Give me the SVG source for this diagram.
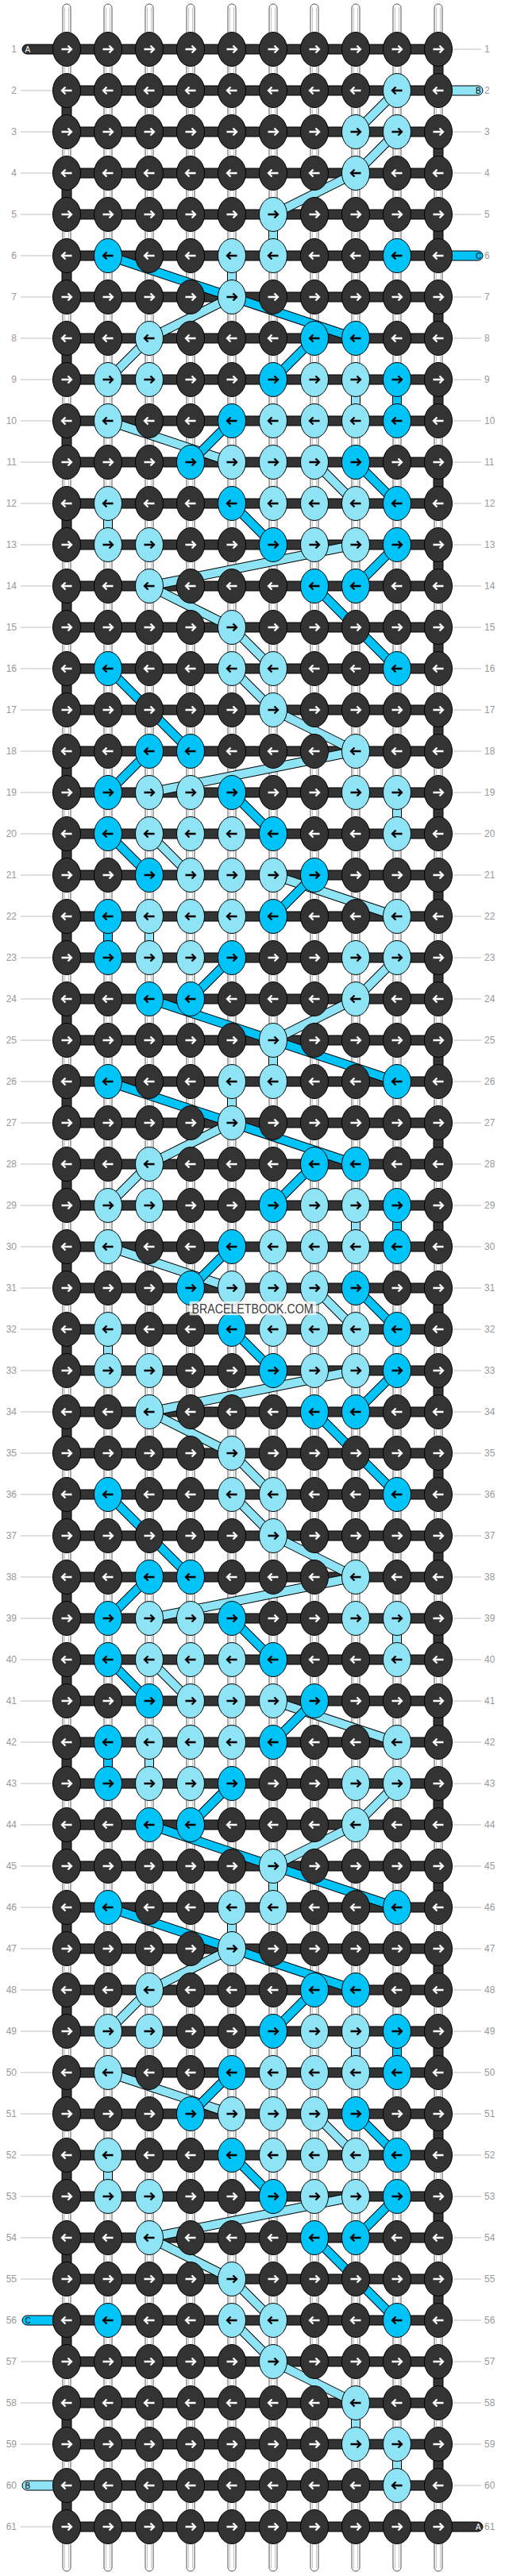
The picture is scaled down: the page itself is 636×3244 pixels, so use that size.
<svg xmlns="http://www.w3.org/2000/svg" width="636" height="3244" viewBox="0 0 636 3244">
<style>
.ll{font-family:'Liberation Sans',Arial,sans-serif;font-size:12px;fill:#999;text-anchor:end}
.lr{font-family:'Liberation Sans',Arial,sans-serif;font-size:12px;fill:#999}
.sl{font-family:'Liberation Sans',Arial,sans-serif;font-size:10px}
</style>
<defs>
<g id="dR"><ellipse rx="17.5" ry="21.5" fill="#333" stroke="#000"/><path d="M-6.5,0H5.5M1.5,-4.5L6,0L1.5,4.5" fill="none" stroke="#fff" stroke-width="2.3"/></g>
<g id="dL"><ellipse rx="17.5" ry="21.5" fill="#333" stroke="#000"/><path d="M6.5,0H-5.5M-1.5,-4.5L-6,0L-1.5,4.5" fill="none" stroke="#fff" stroke-width="2.3"/></g>
<g id="bR"><ellipse rx="17.5" ry="21.5" fill="#8ee4f5" stroke="#000"/><path d="M-6.5,0H5.5M1.5,-4.5L6,0L1.5,4.5" fill="none" stroke="#000" stroke-width="2.3"/></g>
<g id="bL"><ellipse rx="17.5" ry="21.5" fill="#8ee4f5" stroke="#000"/><path d="M6.5,0H-5.5M-1.5,-4.5L-6,0L-1.5,4.5" fill="none" stroke="#000" stroke-width="2.3"/></g>
<g id="cR"><ellipse rx="17.5" ry="21.5" fill="#00c3f7" stroke="#000"/><path d="M-6.5,0H5.5M1.5,-4.5L6,0L1.5,4.5" fill="none" stroke="#000" stroke-width="2.3"/></g>
<g id="cL"><ellipse rx="17.5" ry="21.5" fill="#00c3f7" stroke="#000"/><path d="M6.5,0H-5.5M-1.5,-4.5L-6,0L-1.5,4.5" fill="none" stroke="#000" stroke-width="2.3"/></g>
<path id="lb" d="M500,114L448,166M500,166L448,218M448,218L344,270M344,270L344,322M292,322L292,374M292,374L188,426M188,426L136,478M448,478L448,530M136,530L292,582M396,582L448,634M136,634L136,686M448,686L188,738M188,738L292,790M292,790L344,842M292,842L344,894M344,894L448,946M448,946L188,998M500,998L500,1050M188,1050L240,1102M344,1102L500,1154M188,1154L188,1206M500,1206L448,1258M448,1258L344,1310M344,1310L344,1362M292,1362L292,1414M292,1414L188,1466M188,1466L136,1518M448,1518L448,1570M136,1570L292,1622M396,1622L448,1674M136,1674L136,1726M448,1726L188,1778M188,1778L292,1830M292,1830L344,1882M292,1882L344,1934M344,1934L448,1986M448,1986L188,2038M500,2038L500,2090M188,2090L240,2142M344,2142L500,2194M188,2194L188,2246M500,2246L448,2298M448,2298L344,2350M344,2350L344,2402M292,2402L292,2454M292,2454L188,2506M188,2506L136,2558M448,2558L448,2610M136,2610L292,2662M396,2662L448,2714M136,2714L136,2766M448,2766L188,2818M188,2818L292,2870M292,2870L344,2922M292,2922L344,2974M344,2974L448,3026M448,3026L448,3078M500,3078L500,3130"/>
<path id="lc" d="M136,322L448,426M396,426L344,478M500,478L500,530M292,530L240,582M448,582L500,634M292,634L344,686M500,686L448,738M396,738L500,842M136,842L240,946M188,946L136,998M292,998L344,1050M136,1050L188,1102M396,1102L344,1154M136,1154L136,1206M292,1206L240,1258M188,1258L500,1362M136,1362L448,1466M396,1466L344,1518M500,1518L500,1570M292,1570L240,1622M448,1622L500,1674M292,1674L344,1726M500,1726L448,1778M396,1778L500,1882M136,1882L240,1986M188,1986L136,2038M292,2038L344,2090M136,2090L188,2142M396,2142L344,2194M136,2194L136,2246M292,2246L240,2298M188,2298L500,2402M136,2402L448,2506M396,2506L344,2558M500,2558L500,2610M292,2610L240,2662M448,2662L500,2714M292,2714L344,2766M500,2766L448,2818M396,2818L500,2922"/>
</defs>
<rect width="636" height="3244" fill="#fff"/>
<g id="strands" fill="#fff" stroke="#555">
<rect x="79" y="5" width="10" height="3233" rx="5"/><rect x="131" y="5" width="10" height="3233" rx="5"/><rect x="183" y="5" width="10" height="3233" rx="5"/><rect x="235" y="5" width="10" height="3233" rx="5"/><rect x="287" y="5" width="10" height="3233" rx="5"/><rect x="339" y="5" width="10" height="3233" rx="5"/><rect x="391" y="5" width="10" height="3233" rx="5"/><rect x="443" y="5" width="10" height="3233" rx="5"/><rect x="495" y="5" width="10" height="3233" rx="5"/><rect x="547" y="5" width="10" height="3233" rx="5"/>
<path fill="none" stroke="#c4c4c4" d="M81.5,9V3234M86.5,9V3234M133.5,9V3234M138.5,9V3234M185.5,9V3234M190.5,9V3234M237.5,9V3234M242.5,9V3234M289.5,9V3234M294.5,9V3234M341.5,9V3234M346.5,9V3234M393.5,9V3234M398.5,9V3234M445.5,9V3234M450.5,9V3234M497.5,9V3234M502.5,9V3234M549.5,9V3234M554.5,9V3234"/>
</g>
<g id="row-lines" fill="none" stroke="#c0c0c0">
<path d="M26,114H67M26,166H67M26,218H67M26,270H67M26,322H67M26,374H67M26,426H67M26,478H67M26,530H67M26,582H67M26,634H67M26,686H67M26,738H67M26,790H67M26,842H67M26,894H67M26,946H67M26,998H67M26,1050H67M26,1102H67M26,1154H67M26,1206H67M26,1258H67M26,1310H67M26,1362H67M26,1414H67M26,1466H67M26,1518H67M26,1570H67M26,1622H67M26,1674H67M26,1726H67M26,1778H67M26,1830H67M26,1882H67M26,1934H67M26,1986H67M26,2038H67M26,2090H67M26,2142H67M26,2194H67M26,2246H67M26,2298H67M26,2350H67M26,2402H67M26,2454H67M26,2506H67M26,2558H67M26,2610H67M26,2662H67M26,2714H67M26,2766H67M26,2818H67M26,2870H67M26,2974H67M26,3026H67M26,3078H67M26,3182H67"/>
<path d="M569,62H606M569,166H606M569,218H606M569,270H606M569,374H606M569,426H606M569,478H606M569,530H606M569,582H606M569,634H606M569,686H606M569,738H606M569,790H606M569,842H606M569,894H606M569,946H606M569,998H606M569,1050H606M569,1102H606M569,1154H606M569,1206H606M569,1258H606M569,1310H606M569,1362H606M569,1414H606M569,1466H606M569,1518H606M569,1570H606M569,1622H606M569,1674H606M569,1726H606M569,1778H606M569,1830H606M569,1882H606M569,1934H606M569,1986H606M569,2038H606M569,2090H606M569,2142H606M569,2194H606M569,2246H606M569,2298H606M569,2350H606M569,2402H606M569,2454H606M569,2506H606M569,2558H606M569,2610H606M569,2662H606M569,2714H606M569,2766H606M569,2818H606M569,2870H606M569,2922H606M569,2974H606M569,3026H606M569,3078H606M569,3130H606"/>
</g>
<g id="row-labels">
<text class="ll" x="21" y="66">1</text><text class="lr" x="610" y="66">1</text>
<text class="ll" x="21" y="118">2</text><text class="lr" x="610" y="118">2</text>
<text class="ll" x="21" y="170">3</text><text class="lr" x="610" y="170">3</text>
<text class="ll" x="21" y="222">4</text><text class="lr" x="610" y="222">4</text>
<text class="ll" x="21" y="274">5</text><text class="lr" x="610" y="274">5</text>
<text class="ll" x="21" y="326">6</text><text class="lr" x="610" y="326">6</text>
<text class="ll" x="21" y="378">7</text><text class="lr" x="610" y="378">7</text>
<text class="ll" x="21" y="430">8</text><text class="lr" x="610" y="430">8</text>
<text class="ll" x="21" y="482">9</text><text class="lr" x="610" y="482">9</text>
<text class="ll" x="21" y="534">10</text><text class="lr" x="610" y="534">10</text>
<text class="ll" x="21" y="586">11</text><text class="lr" x="610" y="586">11</text>
<text class="ll" x="21" y="638">12</text><text class="lr" x="610" y="638">12</text>
<text class="ll" x="21" y="690">13</text><text class="lr" x="610" y="690">13</text>
<text class="ll" x="21" y="742">14</text><text class="lr" x="610" y="742">14</text>
<text class="ll" x="21" y="794">15</text><text class="lr" x="610" y="794">15</text>
<text class="ll" x="21" y="846">16</text><text class="lr" x="610" y="846">16</text>
<text class="ll" x="21" y="898">17</text><text class="lr" x="610" y="898">17</text>
<text class="ll" x="21" y="950">18</text><text class="lr" x="610" y="950">18</text>
<text class="ll" x="21" y="1002">19</text><text class="lr" x="610" y="1002">19</text>
<text class="ll" x="21" y="1054">20</text><text class="lr" x="610" y="1054">20</text>
<text class="ll" x="21" y="1106">21</text><text class="lr" x="610" y="1106">21</text>
<text class="ll" x="21" y="1158">22</text><text class="lr" x="610" y="1158">22</text>
<text class="ll" x="21" y="1210">23</text><text class="lr" x="610" y="1210">23</text>
<text class="ll" x="21" y="1262">24</text><text class="lr" x="610" y="1262">24</text>
<text class="ll" x="21" y="1314">25</text><text class="lr" x="610" y="1314">25</text>
<text class="ll" x="21" y="1366">26</text><text class="lr" x="610" y="1366">26</text>
<text class="ll" x="21" y="1418">27</text><text class="lr" x="610" y="1418">27</text>
<text class="ll" x="21" y="1470">28</text><text class="lr" x="610" y="1470">28</text>
<text class="ll" x="21" y="1522">29</text><text class="lr" x="610" y="1522">29</text>
<text class="ll" x="21" y="1574">30</text><text class="lr" x="610" y="1574">30</text>
<text class="ll" x="21" y="1626">31</text><text class="lr" x="610" y="1626">31</text>
<text class="ll" x="21" y="1678">32</text><text class="lr" x="610" y="1678">32</text>
<text class="ll" x="21" y="1730">33</text><text class="lr" x="610" y="1730">33</text>
<text class="ll" x="21" y="1782">34</text><text class="lr" x="610" y="1782">34</text>
<text class="ll" x="21" y="1834">35</text><text class="lr" x="610" y="1834">35</text>
<text class="ll" x="21" y="1886">36</text><text class="lr" x="610" y="1886">36</text>
<text class="ll" x="21" y="1938">37</text><text class="lr" x="610" y="1938">37</text>
<text class="ll" x="21" y="1990">38</text><text class="lr" x="610" y="1990">38</text>
<text class="ll" x="21" y="2042">39</text><text class="lr" x="610" y="2042">39</text>
<text class="ll" x="21" y="2094">40</text><text class="lr" x="610" y="2094">40</text>
<text class="ll" x="21" y="2146">41</text><text class="lr" x="610" y="2146">41</text>
<text class="ll" x="21" y="2198">42</text><text class="lr" x="610" y="2198">42</text>
<text class="ll" x="21" y="2250">43</text><text class="lr" x="610" y="2250">43</text>
<text class="ll" x="21" y="2302">44</text><text class="lr" x="610" y="2302">44</text>
<text class="ll" x="21" y="2354">45</text><text class="lr" x="610" y="2354">45</text>
<text class="ll" x="21" y="2406">46</text><text class="lr" x="610" y="2406">46</text>
<text class="ll" x="21" y="2458">47</text><text class="lr" x="610" y="2458">47</text>
<text class="ll" x="21" y="2510">48</text><text class="lr" x="610" y="2510">48</text>
<text class="ll" x="21" y="2562">49</text><text class="lr" x="610" y="2562">49</text>
<text class="ll" x="21" y="2614">50</text><text class="lr" x="610" y="2614">50</text>
<text class="ll" x="21" y="2666">51</text><text class="lr" x="610" y="2666">51</text>
<text class="ll" x="21" y="2718">52</text><text class="lr" x="610" y="2718">52</text>
<text class="ll" x="21" y="2770">53</text><text class="lr" x="610" y="2770">53</text>
<text class="ll" x="21" y="2822">54</text><text class="lr" x="610" y="2822">54</text>
<text class="ll" x="21" y="2874">55</text><text class="lr" x="610" y="2874">55</text>
<text class="ll" x="21" y="2926">56</text><text class="lr" x="610" y="2926">56</text>
<text class="ll" x="21" y="2978">57</text><text class="lr" x="610" y="2978">57</text>
<text class="ll" x="21" y="3030">58</text><text class="lr" x="610" y="3030">58</text>
<text class="ll" x="21" y="3082">59</text><text class="lr" x="610" y="3082">59</text>
<text class="ll" x="21" y="3134">60</text><text class="lr" x="610" y="3134">60</text>
<text class="ll" x="21" y="3186">61</text><text class="lr" x="610" y="3186">61</text>
</g>
<g id="connectors">
<path id="bands" fill="#333" stroke="#000" d="M84,56h468v12h-468zM84,108h468v12h-468zM84,160h468v12h-468zM84,212h468v12h-468zM84,264h468v12h-468zM84,316h468v12h-468zM84,368h468v12h-468zM84,420h468v12h-468zM84,472h468v12h-468zM84,524h468v12h-468zM84,576h468v12h-468zM84,628h468v12h-468zM84,680h468v12h-468zM84,732h468v12h-468zM84,784h468v12h-468zM84,836h468v12h-468zM84,888h468v12h-468zM84,940h468v12h-468zM84,992h468v12h-468zM84,1044h468v12h-468zM84,1096h468v12h-468zM84,1148h468v12h-468zM84,1200h468v12h-468zM84,1252h468v12h-468zM84,1304h468v12h-468zM84,1356h468v12h-468zM84,1408h468v12h-468zM84,1460h468v12h-468zM84,1512h468v12h-468zM84,1564h468v12h-468zM84,1616h468v12h-468zM84,1668h468v12h-468zM84,1720h468v12h-468zM84,1772h468v12h-468zM84,1824h468v12h-468zM84,1876h468v12h-468zM84,1928h468v12h-468zM84,1980h468v12h-468zM84,2032h468v12h-468zM84,2084h468v12h-468zM84,2136h468v12h-468zM84,2188h468v12h-468zM84,2240h468v12h-468zM84,2292h468v12h-468zM84,2344h468v12h-468zM84,2396h468v12h-468zM84,2448h468v12h-468zM84,2500h468v12h-468zM84,2552h468v12h-468zM84,2604h468v12h-468zM84,2656h468v12h-468zM84,2708h468v12h-468zM84,2760h468v12h-468zM84,2812h468v12h-468zM84,2864h468v12h-468zM84,2916h468v12h-468zM84,2968h468v12h-468zM84,3020h468v12h-468zM84,3072h468v12h-468zM84,3124h468v12h-468zM84,3176h468v12h-468z"/>
<path id="turns" fill="#333" stroke="#000" d="M546,62h12v52h-12zM546,166h12v52h-12zM546,270h12v52h-12zM546,374h12v52h-12zM546,478h12v52h-12zM546,582h12v52h-12zM546,686h12v52h-12zM546,790h12v52h-12zM546,894h12v52h-12zM546,998h12v52h-12zM546,1102h12v52h-12zM546,1206h12v52h-12zM546,1310h12v52h-12zM546,1414h12v52h-12zM546,1518h12v52h-12zM546,1622h12v52h-12zM546,1726h12v52h-12zM546,1830h12v52h-12zM546,1934h12v52h-12zM546,2038h12v52h-12zM546,2142h12v52h-12zM546,2246h12v52h-12zM546,2350h12v52h-12zM546,2454h12v52h-12zM546,2558h12v52h-12zM546,2662h12v52h-12zM546,2766h12v52h-12zM546,2870h12v52h-12zM546,2974h12v52h-12zM546,3078h12v52h-12zM78,114h12v52h-12zM78,218h12v52h-12zM78,322h12v52h-12zM78,426h12v52h-12zM78,530h12v52h-12zM78,634h12v52h-12zM78,738h12v52h-12zM78,842h12v52h-12zM78,946h12v52h-12zM78,1050h12v52h-12zM78,1154h12v52h-12zM78,1258h12v52h-12zM78,1362h12v52h-12zM78,1466h12v52h-12zM78,1570h12v52h-12zM78,1674h12v52h-12zM78,1778h12v52h-12zM78,1882h12v52h-12zM78,1986h12v52h-12zM78,2090h12v52h-12zM78,2194h12v52h-12zM78,2298h12v52h-12zM78,2402h12v52h-12zM78,2506h12v52h-12zM78,2610h12v52h-12zM78,2714h12v52h-12zM78,2818h12v52h-12zM78,2922h12v52h-12zM78,3026h12v52h-12zM78,3130h12v52h-12z"/>
<g id="thread-B"><use href="#lb" fill="none" stroke="#000" stroke-width="12"/><use href="#lb" fill="none" stroke="#8ee4f5" stroke-width="10"/></g>
<g id="thread-C"><use href="#lc" fill="none" stroke="#000" stroke-width="12"/><use href="#lc" fill="none" stroke="#00c3f7" stroke-width="10"/></g>
<g id="stubs">
<rect x="28" y="56" width="56" height="12" rx="6" fill="#333" stroke="#000"/><text class="sl" x="31.5" y="65.6" fill="#fff">A</text>
<rect x="552" y="108" width="56" height="12" rx="6" fill="#8ee4f5" stroke="#000"/><text class="sl" x="599" y="117.6" fill="#000">B</text>
<rect x="552" y="316" width="56" height="12" rx="6" fill="#00c3f7" stroke="#000"/><text class="sl" x="599" y="325.6" fill="#000">C</text>
<rect x="28" y="2916" width="56" height="12" rx="6" fill="#00c3f7" stroke="#000"/><text class="sl" x="31.5" y="2925.6" fill="#000">C</text>
<rect x="28" y="3124" width="56" height="12" rx="6" fill="#8ee4f5" stroke="#000"/><text class="sl" x="31.5" y="3133.6" fill="#000">B</text>
<rect x="552" y="3176" width="56" height="12" rx="6" fill="#333" stroke="#000"/><text class="sl" x="599" y="3185.6" fill="#fff">A</text>
</g>
</g>
<g id="knots">
<g id="r1" transform="translate(0,62)"><use href="#dR" x="84"/><use href="#dR" x="136"/><use href="#dR" x="188"/><use href="#dR" x="240"/><use href="#dR" x="292"/><use href="#dR" x="344"/><use href="#dR" x="396"/><use href="#dR" x="448"/><use href="#dR" x="500"/><use href="#dR" x="552"/></g>
<g id="r2" transform="translate(0,114)"><use href="#dL" x="84"/><use href="#dL" x="136"/><use href="#dL" x="188"/><use href="#dL" x="240"/><use href="#dL" x="292"/><use href="#dL" x="344"/><use href="#dL" x="396"/><use href="#dL" x="448"/><use href="#bL" x="500"/><use href="#dL" x="552"/></g>
<g id="r3" transform="translate(0,166)"><use href="#dR" x="84"/><use href="#dR" x="136"/><use href="#dR" x="188"/><use href="#dR" x="240"/><use href="#dR" x="292"/><use href="#dR" x="344"/><use href="#dR" x="396"/><use href="#bR" x="448"/><use href="#bR" x="500"/><use href="#dR" x="552"/></g>
<g id="r4" transform="translate(0,218)"><use href="#dL" x="84"/><use href="#dL" x="136"/><use href="#dL" x="188"/><use href="#dL" x="240"/><use href="#dL" x="292"/><use href="#dL" x="344"/><use href="#dL" x="396"/><use href="#bL" x="448"/><use href="#dL" x="500"/><use href="#dL" x="552"/></g>
<g id="r5" transform="translate(0,270)"><use href="#dR" x="84"/><use href="#dR" x="136"/><use href="#dR" x="188"/><use href="#dR" x="240"/><use href="#dR" x="292"/><use href="#bR" x="344"/><use href="#dR" x="396"/><use href="#dR" x="448"/><use href="#dR" x="500"/><use href="#dR" x="552"/></g>
<g id="r6" transform="translate(0,322)"><use href="#dL" x="84"/><use href="#cL" x="136"/><use href="#dL" x="188"/><use href="#dL" x="240"/><use href="#bL" x="292"/><use href="#bL" x="344"/><use href="#dL" x="396"/><use href="#dL" x="448"/><use href="#cL" x="500"/><use href="#dL" x="552"/></g>
<g id="r7" transform="translate(0,374)"><use href="#dR" x="84"/><use href="#dR" x="136"/><use href="#dR" x="188"/><use href="#dR" x="240"/><use href="#bR" x="292"/><use href="#dR" x="344"/><use href="#dR" x="396"/><use href="#dR" x="448"/><use href="#dR" x="500"/><use href="#dR" x="552"/></g>
<g id="r8" transform="translate(0,426)"><use href="#dL" x="84"/><use href="#dL" x="136"/><use href="#bL" x="188"/><use href="#dL" x="240"/><use href="#dL" x="292"/><use href="#dL" x="344"/><use href="#cL" x="396"/><use href="#cL" x="448"/><use href="#dL" x="500"/><use href="#dL" x="552"/></g>
<g id="r9" transform="translate(0,478)"><use href="#dR" x="84"/><use href="#bR" x="136"/><use href="#bR" x="188"/><use href="#dR" x="240"/><use href="#dR" x="292"/><use href="#cR" x="344"/><use href="#bR" x="396"/><use href="#bR" x="448"/><use href="#cR" x="500"/><use href="#dR" x="552"/></g>
<g id="r10" transform="translate(0,530)"><use href="#dL" x="84"/><use href="#bL" x="136"/><use href="#dL" x="188"/><use href="#dL" x="240"/><use href="#cL" x="292"/><use href="#bL" x="344"/><use href="#bL" x="396"/><use href="#bL" x="448"/><use href="#cL" x="500"/><use href="#dL" x="552"/></g>
<g id="r11" transform="translate(0,582)"><use href="#dR" x="84"/><use href="#dR" x="136"/><use href="#dR" x="188"/><use href="#cR" x="240"/><use href="#bR" x="292"/><use href="#bR" x="344"/><use href="#bR" x="396"/><use href="#cR" x="448"/><use href="#dR" x="500"/><use href="#dR" x="552"/></g>
<g id="r12" transform="translate(0,634)"><use href="#dL" x="84"/><use href="#bL" x="136"/><use href="#dL" x="188"/><use href="#dL" x="240"/><use href="#cL" x="292"/><use href="#bL" x="344"/><use href="#bL" x="396"/><use href="#bL" x="448"/><use href="#cL" x="500"/><use href="#dL" x="552"/></g>
<g id="r13" transform="translate(0,686)"><use href="#dR" x="84"/><use href="#bR" x="136"/><use href="#bR" x="188"/><use href="#dR" x="240"/><use href="#dR" x="292"/><use href="#cR" x="344"/><use href="#bR" x="396"/><use href="#bR" x="448"/><use href="#cR" x="500"/><use href="#dR" x="552"/></g>
<g id="r14" transform="translate(0,738)"><use href="#dL" x="84"/><use href="#dL" x="136"/><use href="#bL" x="188"/><use href="#dL" x="240"/><use href="#dL" x="292"/><use href="#dL" x="344"/><use href="#cL" x="396"/><use href="#cL" x="448"/><use href="#dL" x="500"/><use href="#dL" x="552"/></g>
<g id="r15" transform="translate(0,790)"><use href="#dR" x="84"/><use href="#dR" x="136"/><use href="#dR" x="188"/><use href="#dR" x="240"/><use href="#bR" x="292"/><use href="#dR" x="344"/><use href="#dR" x="396"/><use href="#dR" x="448"/><use href="#dR" x="500"/><use href="#dR" x="552"/></g>
<g id="r16" transform="translate(0,842)"><use href="#dL" x="84"/><use href="#cL" x="136"/><use href="#dL" x="188"/><use href="#dL" x="240"/><use href="#bL" x="292"/><use href="#bL" x="344"/><use href="#dL" x="396"/><use href="#dL" x="448"/><use href="#cL" x="500"/><use href="#dL" x="552"/></g>
<g id="r17" transform="translate(0,894)"><use href="#dR" x="84"/><use href="#dR" x="136"/><use href="#dR" x="188"/><use href="#dR" x="240"/><use href="#dR" x="292"/><use href="#bR" x="344"/><use href="#dR" x="396"/><use href="#dR" x="448"/><use href="#dR" x="500"/><use href="#dR" x="552"/></g>
<g id="r18" transform="translate(0,946)"><use href="#dL" x="84"/><use href="#dL" x="136"/><use href="#cL" x="188"/><use href="#cL" x="240"/><use href="#dL" x="292"/><use href="#dL" x="344"/><use href="#dL" x="396"/><use href="#bL" x="448"/><use href="#dL" x="500"/><use href="#dL" x="552"/></g>
<g id="r19" transform="translate(0,998)"><use href="#dR" x="84"/><use href="#cR" x="136"/><use href="#bR" x="188"/><use href="#bR" x="240"/><use href="#cR" x="292"/><use href="#dR" x="344"/><use href="#dR" x="396"/><use href="#bR" x="448"/><use href="#bR" x="500"/><use href="#dR" x="552"/></g>
<g id="r20" transform="translate(0,1050)"><use href="#dL" x="84"/><use href="#cL" x="136"/><use href="#bL" x="188"/><use href="#bL" x="240"/><use href="#bL" x="292"/><use href="#cL" x="344"/><use href="#dL" x="396"/><use href="#dL" x="448"/><use href="#bL" x="500"/><use href="#dL" x="552"/></g>
<g id="r21" transform="translate(0,1102)"><use href="#dR" x="84"/><use href="#dR" x="136"/><use href="#cR" x="188"/><use href="#bR" x="240"/><use href="#bR" x="292"/><use href="#bR" x="344"/><use href="#cR" x="396"/><use href="#dR" x="448"/><use href="#dR" x="500"/><use href="#dR" x="552"/></g>
<g id="r22" transform="translate(0,1154)"><use href="#dL" x="84"/><use href="#cL" x="136"/><use href="#bL" x="188"/><use href="#bL" x="240"/><use href="#bL" x="292"/><use href="#cL" x="344"/><use href="#dL" x="396"/><use href="#dL" x="448"/><use href="#bL" x="500"/><use href="#dL" x="552"/></g>
<g id="r23" transform="translate(0,1206)"><use href="#dR" x="84"/><use href="#cR" x="136"/><use href="#bR" x="188"/><use href="#bR" x="240"/><use href="#cR" x="292"/><use href="#dR" x="344"/><use href="#dR" x="396"/><use href="#bR" x="448"/><use href="#bR" x="500"/><use href="#dR" x="552"/></g>
<g id="r24" transform="translate(0,1258)"><use href="#dL" x="84"/><use href="#dL" x="136"/><use href="#cL" x="188"/><use href="#cL" x="240"/><use href="#dL" x="292"/><use href="#dL" x="344"/><use href="#dL" x="396"/><use href="#bL" x="448"/><use href="#dL" x="500"/><use href="#dL" x="552"/></g>
<g id="r25" transform="translate(0,1310)"><use href="#dR" x="84"/><use href="#dR" x="136"/><use href="#dR" x="188"/><use href="#dR" x="240"/><use href="#dR" x="292"/><use href="#bR" x="344"/><use href="#dR" x="396"/><use href="#dR" x="448"/><use href="#dR" x="500"/><use href="#dR" x="552"/></g>
<g id="r26" transform="translate(0,1362)"><use href="#dL" x="84"/><use href="#cL" x="136"/><use href="#dL" x="188"/><use href="#dL" x="240"/><use href="#bL" x="292"/><use href="#bL" x="344"/><use href="#dL" x="396"/><use href="#dL" x="448"/><use href="#cL" x="500"/><use href="#dL" x="552"/></g>
<g id="r27" transform="translate(0,1414)"><use href="#dR" x="84"/><use href="#dR" x="136"/><use href="#dR" x="188"/><use href="#dR" x="240"/><use href="#bR" x="292"/><use href="#dR" x="344"/><use href="#dR" x="396"/><use href="#dR" x="448"/><use href="#dR" x="500"/><use href="#dR" x="552"/></g>
<g id="r28" transform="translate(0,1466)"><use href="#dL" x="84"/><use href="#dL" x="136"/><use href="#bL" x="188"/><use href="#dL" x="240"/><use href="#dL" x="292"/><use href="#dL" x="344"/><use href="#cL" x="396"/><use href="#cL" x="448"/><use href="#dL" x="500"/><use href="#dL" x="552"/></g>
<g id="r29" transform="translate(0,1518)"><use href="#dR" x="84"/><use href="#bR" x="136"/><use href="#bR" x="188"/><use href="#dR" x="240"/><use href="#dR" x="292"/><use href="#cR" x="344"/><use href="#bR" x="396"/><use href="#bR" x="448"/><use href="#cR" x="500"/><use href="#dR" x="552"/></g>
<g id="r30" transform="translate(0,1570)"><use href="#dL" x="84"/><use href="#bL" x="136"/><use href="#dL" x="188"/><use href="#dL" x="240"/><use href="#cL" x="292"/><use href="#bL" x="344"/><use href="#bL" x="396"/><use href="#bL" x="448"/><use href="#cL" x="500"/><use href="#dL" x="552"/></g>
<g id="r31" transform="translate(0,1622)"><use href="#dR" x="84"/><use href="#dR" x="136"/><use href="#dR" x="188"/><use href="#cR" x="240"/><use href="#bR" x="292"/><use href="#bR" x="344"/><use href="#bR" x="396"/><use href="#cR" x="448"/><use href="#dR" x="500"/><use href="#dR" x="552"/></g>
<g id="r32" transform="translate(0,1674)"><use href="#dL" x="84"/><use href="#bL" x="136"/><use href="#dL" x="188"/><use href="#dL" x="240"/><use href="#cL" x="292"/><use href="#bL" x="344"/><use href="#bL" x="396"/><use href="#bL" x="448"/><use href="#cL" x="500"/><use href="#dL" x="552"/></g>
<g id="r33" transform="translate(0,1726)"><use href="#dR" x="84"/><use href="#bR" x="136"/><use href="#bR" x="188"/><use href="#dR" x="240"/><use href="#dR" x="292"/><use href="#cR" x="344"/><use href="#bR" x="396"/><use href="#bR" x="448"/><use href="#cR" x="500"/><use href="#dR" x="552"/></g>
<g id="r34" transform="translate(0,1778)"><use href="#dL" x="84"/><use href="#dL" x="136"/><use href="#bL" x="188"/><use href="#dL" x="240"/><use href="#dL" x="292"/><use href="#dL" x="344"/><use href="#cL" x="396"/><use href="#cL" x="448"/><use href="#dL" x="500"/><use href="#dL" x="552"/></g>
<g id="r35" transform="translate(0,1830)"><use href="#dR" x="84"/><use href="#dR" x="136"/><use href="#dR" x="188"/><use href="#dR" x="240"/><use href="#bR" x="292"/><use href="#dR" x="344"/><use href="#dR" x="396"/><use href="#dR" x="448"/><use href="#dR" x="500"/><use href="#dR" x="552"/></g>
<g id="r36" transform="translate(0,1882)"><use href="#dL" x="84"/><use href="#cL" x="136"/><use href="#dL" x="188"/><use href="#dL" x="240"/><use href="#bL" x="292"/><use href="#bL" x="344"/><use href="#dL" x="396"/><use href="#dL" x="448"/><use href="#cL" x="500"/><use href="#dL" x="552"/></g>
<g id="r37" transform="translate(0,1934)"><use href="#dR" x="84"/><use href="#dR" x="136"/><use href="#dR" x="188"/><use href="#dR" x="240"/><use href="#dR" x="292"/><use href="#bR" x="344"/><use href="#dR" x="396"/><use href="#dR" x="448"/><use href="#dR" x="500"/><use href="#dR" x="552"/></g>
<g id="r38" transform="translate(0,1986)"><use href="#dL" x="84"/><use href="#dL" x="136"/><use href="#cL" x="188"/><use href="#cL" x="240"/><use href="#dL" x="292"/><use href="#dL" x="344"/><use href="#dL" x="396"/><use href="#bL" x="448"/><use href="#dL" x="500"/><use href="#dL" x="552"/></g>
<g id="r39" transform="translate(0,2038)"><use href="#dR" x="84"/><use href="#cR" x="136"/><use href="#bR" x="188"/><use href="#bR" x="240"/><use href="#cR" x="292"/><use href="#dR" x="344"/><use href="#dR" x="396"/><use href="#bR" x="448"/><use href="#bR" x="500"/><use href="#dR" x="552"/></g>
<g id="r40" transform="translate(0,2090)"><use href="#dL" x="84"/><use href="#cL" x="136"/><use href="#bL" x="188"/><use href="#bL" x="240"/><use href="#bL" x="292"/><use href="#cL" x="344"/><use href="#dL" x="396"/><use href="#dL" x="448"/><use href="#bL" x="500"/><use href="#dL" x="552"/></g>
<g id="r41" transform="translate(0,2142)"><use href="#dR" x="84"/><use href="#dR" x="136"/><use href="#cR" x="188"/><use href="#bR" x="240"/><use href="#bR" x="292"/><use href="#bR" x="344"/><use href="#cR" x="396"/><use href="#dR" x="448"/><use href="#dR" x="500"/><use href="#dR" x="552"/></g>
<g id="r42" transform="translate(0,2194)"><use href="#dL" x="84"/><use href="#cL" x="136"/><use href="#bL" x="188"/><use href="#bL" x="240"/><use href="#bL" x="292"/><use href="#cL" x="344"/><use href="#dL" x="396"/><use href="#dL" x="448"/><use href="#bL" x="500"/><use href="#dL" x="552"/></g>
<g id="r43" transform="translate(0,2246)"><use href="#dR" x="84"/><use href="#cR" x="136"/><use href="#bR" x="188"/><use href="#bR" x="240"/><use href="#cR" x="292"/><use href="#dR" x="344"/><use href="#dR" x="396"/><use href="#bR" x="448"/><use href="#bR" x="500"/><use href="#dR" x="552"/></g>
<g id="r44" transform="translate(0,2298)"><use href="#dL" x="84"/><use href="#dL" x="136"/><use href="#cL" x="188"/><use href="#cL" x="240"/><use href="#dL" x="292"/><use href="#dL" x="344"/><use href="#dL" x="396"/><use href="#bL" x="448"/><use href="#dL" x="500"/><use href="#dL" x="552"/></g>
<g id="r45" transform="translate(0,2350)"><use href="#dR" x="84"/><use href="#dR" x="136"/><use href="#dR" x="188"/><use href="#dR" x="240"/><use href="#dR" x="292"/><use href="#bR" x="344"/><use href="#dR" x="396"/><use href="#dR" x="448"/><use href="#dR" x="500"/><use href="#dR" x="552"/></g>
<g id="r46" transform="translate(0,2402)"><use href="#dL" x="84"/><use href="#cL" x="136"/><use href="#dL" x="188"/><use href="#dL" x="240"/><use href="#bL" x="292"/><use href="#bL" x="344"/><use href="#dL" x="396"/><use href="#dL" x="448"/><use href="#cL" x="500"/><use href="#dL" x="552"/></g>
<g id="r47" transform="translate(0,2454)"><use href="#dR" x="84"/><use href="#dR" x="136"/><use href="#dR" x="188"/><use href="#dR" x="240"/><use href="#bR" x="292"/><use href="#dR" x="344"/><use href="#dR" x="396"/><use href="#dR" x="448"/><use href="#dR" x="500"/><use href="#dR" x="552"/></g>
<g id="r48" transform="translate(0,2506)"><use href="#dL" x="84"/><use href="#dL" x="136"/><use href="#bL" x="188"/><use href="#dL" x="240"/><use href="#dL" x="292"/><use href="#dL" x="344"/><use href="#cL" x="396"/><use href="#cL" x="448"/><use href="#dL" x="500"/><use href="#dL" x="552"/></g>
<g id="r49" transform="translate(0,2558)"><use href="#dR" x="84"/><use href="#bR" x="136"/><use href="#bR" x="188"/><use href="#dR" x="240"/><use href="#dR" x="292"/><use href="#cR" x="344"/><use href="#bR" x="396"/><use href="#bR" x="448"/><use href="#cR" x="500"/><use href="#dR" x="552"/></g>
<g id="r50" transform="translate(0,2610)"><use href="#dL" x="84"/><use href="#bL" x="136"/><use href="#dL" x="188"/><use href="#dL" x="240"/><use href="#cL" x="292"/><use href="#bL" x="344"/><use href="#bL" x="396"/><use href="#bL" x="448"/><use href="#cL" x="500"/><use href="#dL" x="552"/></g>
<g id="r51" transform="translate(0,2662)"><use href="#dR" x="84"/><use href="#dR" x="136"/><use href="#dR" x="188"/><use href="#cR" x="240"/><use href="#bR" x="292"/><use href="#bR" x="344"/><use href="#bR" x="396"/><use href="#cR" x="448"/><use href="#dR" x="500"/><use href="#dR" x="552"/></g>
<g id="r52" transform="translate(0,2714)"><use href="#dL" x="84"/><use href="#bL" x="136"/><use href="#dL" x="188"/><use href="#dL" x="240"/><use href="#cL" x="292"/><use href="#bL" x="344"/><use href="#bL" x="396"/><use href="#bL" x="448"/><use href="#cL" x="500"/><use href="#dL" x="552"/></g>
<g id="r53" transform="translate(0,2766)"><use href="#dR" x="84"/><use href="#bR" x="136"/><use href="#bR" x="188"/><use href="#dR" x="240"/><use href="#dR" x="292"/><use href="#cR" x="344"/><use href="#bR" x="396"/><use href="#bR" x="448"/><use href="#cR" x="500"/><use href="#dR" x="552"/></g>
<g id="r54" transform="translate(0,2818)"><use href="#dL" x="84"/><use href="#dL" x="136"/><use href="#bL" x="188"/><use href="#dL" x="240"/><use href="#dL" x="292"/><use href="#dL" x="344"/><use href="#cL" x="396"/><use href="#cL" x="448"/><use href="#dL" x="500"/><use href="#dL" x="552"/></g>
<g id="r55" transform="translate(0,2870)"><use href="#dR" x="84"/><use href="#dR" x="136"/><use href="#dR" x="188"/><use href="#dR" x="240"/><use href="#bR" x="292"/><use href="#dR" x="344"/><use href="#dR" x="396"/><use href="#dR" x="448"/><use href="#dR" x="500"/><use href="#dR" x="552"/></g>
<g id="r56" transform="translate(0,2922)"><use href="#dL" x="84"/><use href="#cL" x="136"/><use href="#dL" x="188"/><use href="#dL" x="240"/><use href="#bL" x="292"/><use href="#bL" x="344"/><use href="#dL" x="396"/><use href="#dL" x="448"/><use href="#cL" x="500"/><use href="#dL" x="552"/></g>
<g id="r57" transform="translate(0,2974)"><use href="#dR" x="84"/><use href="#dR" x="136"/><use href="#dR" x="188"/><use href="#dR" x="240"/><use href="#dR" x="292"/><use href="#bR" x="344"/><use href="#dR" x="396"/><use href="#dR" x="448"/><use href="#dR" x="500"/><use href="#dR" x="552"/></g>
<g id="r58" transform="translate(0,3026)"><use href="#dL" x="84"/><use href="#dL" x="136"/><use href="#dL" x="188"/><use href="#dL" x="240"/><use href="#dL" x="292"/><use href="#dL" x="344"/><use href="#dL" x="396"/><use href="#bL" x="448"/><use href="#dL" x="500"/><use href="#dL" x="552"/></g>
<g id="r59" transform="translate(0,3078)"><use href="#dR" x="84"/><use href="#dR" x="136"/><use href="#dR" x="188"/><use href="#dR" x="240"/><use href="#dR" x="292"/><use href="#dR" x="344"/><use href="#dR" x="396"/><use href="#bR" x="448"/><use href="#bR" x="500"/><use href="#dR" x="552"/></g>
<g id="r60" transform="translate(0,3130)"><use href="#dL" x="84"/><use href="#dL" x="136"/><use href="#dL" x="188"/><use href="#dL" x="240"/><use href="#dL" x="292"/><use href="#dL" x="344"/><use href="#dL" x="396"/><use href="#dL" x="448"/><use href="#bL" x="500"/><use href="#dL" x="552"/></g>
<g id="r61" transform="translate(0,3182)"><use href="#dR" x="84"/><use href="#dR" x="136"/><use href="#dR" x="188"/><use href="#dR" x="240"/><use href="#dR" x="292"/><use href="#dR" x="344"/><use href="#dR" x="396"/><use href="#dR" x="448"/><use href="#dR" x="500"/><use href="#dR" x="552"/></g>
</g>
<g id="watermark">
<rect x="239" y="1639" width="159" height="17" fill="#fff" fill-opacity="0.75" stroke="#ddd" stroke-width="0.5"/>
<text x="318" y="1653.5" text-anchor="middle" font-family="'Liberation Sans', Arial, sans-serif" font-size="16" textLength="153" lengthAdjust="spacingAndGlyphs" fill="#3a3a3a">BRACELETBOOK.COM</text>
</g>
</svg>
